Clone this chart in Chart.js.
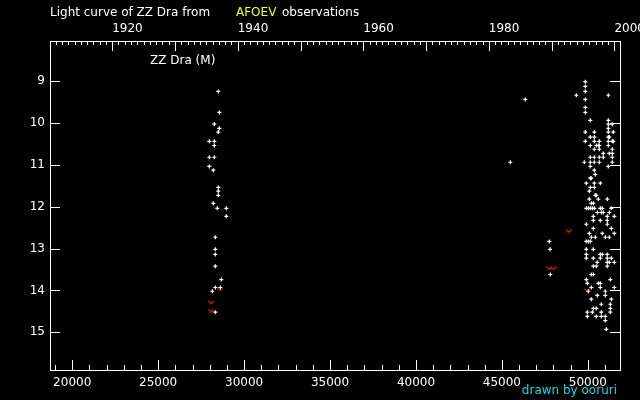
<!DOCTYPE html>
<html>
<head>
<meta charset="utf-8">
<script src="https://cdn.jsdelivr.net/npm/chart.js@4.4.1/dist/chart.umd.min.js"></script>
<style>
  html, body { margin: 0; padding: 0; background: #000; }
  #wrap { width: 640px; height: 400px; }
</style>
</head>
<body>
<div id="wrap"><canvas id="myChart" width="640" height="400"></canvas></div>
<script>
// Visual estimates: JD - 2400000 and magnitude
var visJD = [
  // 1935-37
  28500, 28558, 28267, 28558, 28500, 27976, 28267, 28267, 27976, 28267,
  27976, 28209, 28500, 28500, 28500, 28209, 28442, 28966, 28966, 28326,
  28326, 28326, 28326, 28675, 28326, 28616, 28151, 28326,
  // 1983-90
  46361, 45489, 47758, 47798, 47816,
  // 1994-2000
  49852, 49852, 49852, 49329, 51190, 49852, 49852, 49852, 50143, 51190,
  51190, 51423, 51190,
  49852, 50376, 51190, 51481,
  50143, 50376, 51190, 51248,
  49852, 50376, 50667, 51190, 51423, 51481,
  50143, 50492, 50608, 50667, 51190,
  50376, 50667, 51423,
  50899, 51248, 51423,
  50143, 50376, 50667, 50899, 51423,
  49794, 50143, 50376, 50667, 51423,
  50143, 51190,
  50376, 50434, 50143, 50201,
  49910, 50376, 50725,
  50143, 50376, 50085, 50434, 50492,
  50085, 50608, 51132,
  50201, 50318,
  49910, 50027, 50143, 50259, 50376, 50725, 50841, 51365,
  50550, 50783, 50899, 51248,
  50318, 51132, 51539,
  50318, 50725, 51132,
  49910, 51132, 50318, 51365,
  50085, 50841, 51539,
  50201, 50434, 51016, 51248,
  49910, 50027, 50143,
  49910, 50318,
  49910, 50725, 50841, 51132,
  49910, 50318, 50725, 51132, 51365,
  50550, 51132, 51248, 51539,
  50318, 50492, 51132,
  50201, 50318,
  49910, 51307,
  49969, 50608, 50725,
  50201, 50725, 51539,
  50027, 51016, 50550, 51016, 50201, 51365, 50783, 51307,
  50318, 50492, 51307,
  49969, 50259, 50783, 51307,
  49969, 50492, 50783, 51016,
  51016, 51074
];
var visMag = [
  9.25, 9.75, 10.03, 10.13, 10.22, 10.44, 10.44, 10.54, 10.82, 10.82,
  11.04, 11.13, 11.54, 11.63, 11.73, 11.92, 12.04, 12.04, 12.23, 12.73,
  13.02, 13.14, 13.42, 13.74, 13.93, 13.93, 14.02, 14.52,
  9.44, 10.94, 12.83, 13.02, 13.62,
  9.02, 9.13, 9.25, 9.34, 9.34, 9.44, 9.63, 9.75, 9.94, 9.94,
  10.03, 10.03, 10.13,
  10.22, 10.22, 10.22, 10.22,
  10.34, 10.34, 10.34, 10.34,
  10.44, 10.44, 10.44, 10.44, 10.44, 10.44,
  10.54, 10.54, 10.54, 10.54, 10.54,
  10.63, 10.63, 10.63,
  10.73, 10.73, 10.73,
  10.82, 10.82, 10.82, 10.82, 10.82,
  10.94, 10.94, 10.94, 10.94, 10.94,
  11.04, 11.04,
  11.13, 11.23, 11.32, 11.32,
  11.44, 11.44, 11.44,
  11.54, 11.54, 11.63, 11.73, 11.73,
  11.82, 11.82, 11.82,
  11.92, 11.92,
  12.04, 12.04, 12.04, 12.04, 12.04, 12.04, 12.04, 12.04,
  12.14, 12.14, 12.14, 12.14,
  12.23, 12.23, 12.23,
  12.33, 12.33, 12.33,
  12.42, 12.42, 12.52, 12.52,
  12.64, 12.64, 12.64,
  12.73, 12.73, 12.73, 12.73,
  12.83, 12.83, 12.83,
  13.02, 13.02,
  13.14, 13.14, 13.14, 13.14,
  13.23, 13.23, 13.23, 13.23, 13.23,
  13.33, 13.33, 13.33, 13.33,
  13.42, 13.42, 13.42,
  13.62, 13.62,
  13.74, 13.74,
  13.83, 13.83, 13.83,
  13.93, 13.93, 13.93,
  14.02, 14.02, 14.12, 14.12, 14.21, 14.21, 14.33, 14.33,
  14.43, 14.43, 14.43,
  14.52, 14.52, 14.52, 14.52,
  14.62, 14.62, 14.62, 14.62,
  14.72, 14.93
];

// "fainter than" estimates (red marks)
var fntJD  = [28616, 28093, 28093, 48886, 47769, 48002, 49969];
var fntMag = [13.97, 14.28, 14.48, 12.58, 13.47, 13.47, 13.99];

// axes
var jdMin = 18708, jdMax = 51871;
var magMin = 8.045, magMax = 15.9;
var jdTicks = [20000, 25000, 30000, 35000, 40000, 45000, 50000];
var yearTicks = [1920, 1940, 1960, 1980, 2000];
var magTicks = [9, 10, 11, 12, 13, 14, 15];

var FONT = '12px "DejaVu Sans", sans-serif';

function yearToJD(yr) {
  return 15020.5 + (yr - 1900) * 365.25;
}

function toPoints(xs, ys) {
  return xs.map(function (x, i) { return { x: x, y: ys[i] }; });
}

// little red "v" used for fainter-than points
var vMark = document.createElement('canvas');
vMark.width = 6;
vMark.height = 4;
(function () {
  var c = vMark.getContext('2d');
  c.strokeStyle = '#ff1010';
  c.lineWidth = 1.2;
  c.beginPath();
  c.moveTo(0.3, 0.6);
  c.lineTo(3, 3.3);
  c.lineTo(5.7, 0.6);
  c.stroke();
})();

var axesPlugin = {
  id: 'axes',
  beforeDatasetsDraw: function (chart) {
    var ctx = chart.ctx, a = chart.chartArea;
    var sx = chart.scales.x, sy = chart.scales.y;
    ctx.save();
    ctx.strokeStyle = '#fff';
    ctx.lineWidth = 1;
    ctx.strokeRect(a.left + 0.5, a.top + 0.5, a.right - a.left, a.bottom - a.top);
    ctx.beginPath();
    var jd, yr, px, len;
    for (jd = 19000; jd <= 51000; jd += 1000) {
      px = Math.round(sx.getPixelForValue(jd)) + 0.5;
      len = jd % 5000 === 0 ? 10 : 5;
      ctx.moveTo(px, a.bottom);
      ctx.lineTo(px, a.bottom - len);
    }
    for (yr = 1911; yr <= 2000; yr++) {
      px = Math.round(sx.getPixelForValue(yearToJD(yr))) + 0.5;
      len = yr % 10 === 0 ? 10 : 4;
      ctx.moveTo(px, a.top);
      ctx.lineTo(px, a.top + len);
    }
    magTicks.forEach(function (m) {
      var py = Math.round(sy.getPixelForValue(m)) + 0.5;
      ctx.moveTo(a.left, py);
      ctx.lineTo(a.left + 10, py);
      ctx.moveTo(a.right, py);
      ctx.lineTo(a.right - 10, py);
    });
    ctx.stroke();

    ctx.fillStyle = '#fff';
    ctx.font = FONT;
    ctx.textAlign = 'center';
    ctx.textBaseline = 'alphabetic';
    jdTicks.forEach(function (t) {
      ctx.fillText(String(t), sx.getPixelForValue(t), a.bottom + 16);
    });
    ctx.textAlign = 'left';
    yearTicks.forEach(function (t) {
      ctx.fillText(String(t), sx.getPixelForValue(yearToJD(t)), a.top - 9);
    });
    ctx.textAlign = 'right';
    ctx.textBaseline = 'middle';
    magTicks.forEach(function (m) {
      ctx.fillText(String(m), a.left - 5, sy.getPixelForValue(m));
    });

    ctx.textAlign = 'left';
    ctx.textBaseline = 'alphabetic';
    ctx.fillText('Light curve of ZZ Dra from', 50, 16);
    ctx.fillStyle = '#ffff00';
    ctx.fillText('AFOEV', 236, 16);
    ctx.fillStyle = '#fff';
    ctx.fillText('observations', 282, 16);
    ctx.fillText('ZZ Dra (M)', 150, 64);
    ctx.fillStyle = '#1ad8e6';
    ctx.textAlign = 'right';
    ctx.fillText('drawn by ooruri', 617, 394);
    ctx.restore();
  }
};

var ctx = document.getElementById('myChart');
var myChart = new Chart(ctx, {
  type: 'scatter',
  data: {
    datasets: [
      {
        label: 'visual',
        data: toPoints(visJD, visMag),
        pointStyle: 'cross',
        pointRadius: 2,
        borderColor: '#ffffff',
        borderWidth: 1.2
      },
      {
        label: 'fainter than',
        data: toPoints(fntJD, fntMag),
        pointStyle: vMark,
        pointRadius: 3
      }
    ]
  },
  options: {
    responsive: false,
    animation: false,
    devicePixelRatio: 1,
    layout: { padding: { left: 50, top: 41, right: 20, bottom: 30 } },
    plugins: { legend: { display: false }, tooltip: { enabled: false } },
    scales: {
      x: { type: 'linear', min: jdMin, max: jdMax, display: false },
      y: { type: 'linear', min: magMin, max: magMax, reverse: true, display: false }
    }
  },
  plugins: [axesPlugin]
});
</script>
</body>
</html>
